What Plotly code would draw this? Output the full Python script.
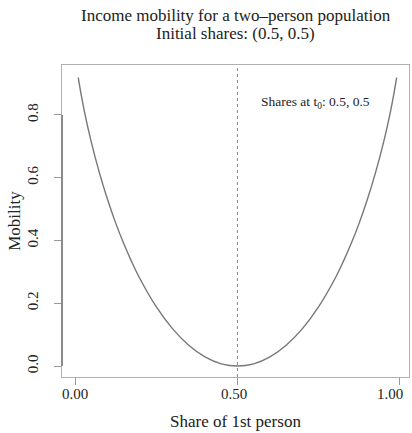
import plotly.graph_objects as go

share = [0.01, 0.02, 0.03, 0.05, 0.075, 0.10, 0.125, 0.15, 0.175, 0.20, 0.25, 0.30, 0.35, 0.40, 0.45, 0.50,
         0.55, 0.60, 0.65, 0.70, 0.75, 0.80, 0.825, 0.85, 0.875, 0.90, 0.925, 0.95, 0.97, 0.98, 0.99]
mobility = [0.919, 0.859, 0.806, 0.714, 0.616, 0.531, 0.456, 0.390, 0.331, 0.278, 0.189, 0.119, 0.066, 0.029, 0.007, 0.0,
            0.007, 0.029, 0.066, 0.119, 0.189, 0.278, 0.331, 0.390, 0.456, 0.531, 0.616, 0.714, 0.806, 0.859, 0.919]
x_ticks = [0.0, 0.5, 1.0]
x_ticklabels = ["0.00", "0.50", "1.00"]
y_ticks = [0.0, 0.2, 0.4, 0.6, 0.8]
y_ticklabels = ["0.0", "0.2", "0.4", "0.6", "0.8"]
initial_share = 0.5
title_lines = ["Income mobility for a two–person population", "Initial shares: (0.5, 0.5)"]

FONT = "Liberation Serif"
TXT = "#222"

fig = go.Figure()
fig.add_trace(go.Scatter(x=share, y=mobility, mode="lines",
                         line=dict(color="#777777", width=1.4, shape="spline"),
                         showlegend=False, hoverinfo="skip"))

fig.add_shape(type="line", xref="x", yref="paper", x0=initial_share, x1=initial_share, y0=0, y1=1,
              line=dict(color="#8a8a8a", width=1, dash="3px,3px"))
# darker y-axis line spanning the ticks
fig.add_shape(type="line", xref="paper", yref="y", x0=0, x1=0, y0=y_ticks[0], y1=y_ticks[-1],
              line=dict(color="#8a8a8a", width=2))

fig.add_annotation(x=0.74, y=0.838, xref="x", yref="y", showarrow=False,
                   text="Shares at t<sub>0</sub>: 0.5, 0.5",
                   font=dict(family=FONT, size=13.5, color=TXT))

for i, line in enumerate(title_lines):
    fig.add_annotation(x=0.5, xref="paper", y=1, yref="paper", yanchor="middle",
                       yshift=50 - 18 * i, showarrow=False, text=line,
                       font=dict(family=FONT, size=17, color=TXT))

# x tick labels (kept inside the figure width as in the reference)
x_label_shift = [0, -3, -10]
for v, lab, sh in zip(x_ticks, x_ticklabels, x_label_shift):
    fig.add_annotation(x=v, xref="x", y=0, yref="paper", yanchor="middle", yshift=-17,
                       xshift=sh, showarrow=False, text=lab,
                       font=dict(family=FONT, size=15, color=TXT))

fig.update_layout(
    width=412, height=433,
    margin=dict(l=62, r=3, t=65, b=56),
    paper_bgcolor="white", plot_bgcolor="white",
    font=dict(family=FONT, size=15, color=TXT),
)
fig.update_xaxes(range=[-0.04, 1.028], tickvals=x_ticks, showticklabels=False, automargin=False,
                 ticks="outside", ticklen=7, tickcolor="#999", showgrid=False, zeroline=False,
                 showline=True, mirror=True, linecolor="#b0b0b0", linewidth=1,
                 title=dict(text="Share of 1st person", standoff=31, font=dict(size=17)))
fig.update_yaxes(range=[-0.035, 0.959], tickvals=y_ticks, ticktext=y_ticklabels, automargin=False,
                 ticks="outside", ticklen=7, tickcolor="#999", showgrid=False, zeroline=False,
                 showline=True, mirror=True, linecolor="#b0b0b0", linewidth=1,
                 tickangle=-90, ticklabelstandoff=10,
                 title=dict(text="Mobility", standoff=0, font=dict(size=17)),
                 tickfont=dict(size=15))

fig.write_html("out.html")
